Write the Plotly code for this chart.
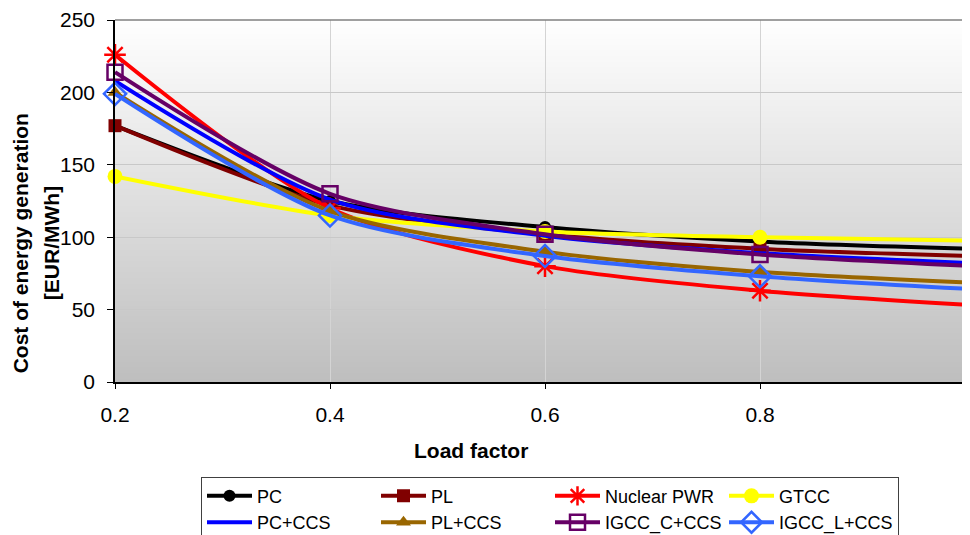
import base64, struct, zlib
import plotly.graph_objects as go

load_factor = [0.2, 0.4, 0.6, 0.8, 1.0]

pc = [177, 125, 107, 97, 92]
pl = [177, 122, 102, 92, 87]
nuclear = [226, 120, 80, 63, 53]
gtcc = [142, 115, 104, 100, 97.5]
pc_ccs = [208, 126, 101, 89, 82]
pl_ccs = [200, 118, 90, 76, 68.5]
igcc_c = [214, 130, 102, 88, 80]
igcc_l = [199, 115, 87, 73, 64]

series_names = ["PC", "PL", "Nuclear PWR", "GTCC", "PC+CCS", "PL+CCS",
                "IGCC_C+CCS", "IGCC_L+CCS"]
series_values = [pc, pl, nuclear, gtcc, pc_ccs, pl_ccs, igcc_c, igcc_l]

y_ticks = [0, 50, 100, 150, 200, 250]
x_ticks = [0.2, 0.4, 0.6, 0.8, 1.0]
x_tick_labels = ["0.2", "0.4", "0.6", "0.8", "1"]

y_title_lines = ["Cost of energy generation", "[EUR/MWh]"]
x_title = "Load factor"

styles = [
    dict(color="#000000", symbol="circle", size=12, open=False),
    dict(color="#800000", symbol="square", size=13, open=False),
    dict(color="#FF0000", symbol="asterisk-open", size=18, open=True),
    dict(color="#FFFF00", symbol="circle", size=15, open=False),
    dict(color="#0000FF", symbol=None, size=0, open=False),
    dict(color="#996600", symbol="triangle-up", size=13, open=False),
    dict(color="#660066", symbol="square-open", size=15, open=True),
    dict(color="#3366FF", symbol="diamond-open", size=17, open=True),
]


def gradient_png(top=(255, 255, 255), bottom=(190, 190, 190), h=256):
    rows = b""
    for i in range(h):
        t = i / (h - 1)
        c = bytes(int(round(top[k] + (bottom[k] - top[k]) * t)) for k in range(3))
        rows += b"\x00" + c
    def chunk(tag, data):
        return (struct.pack(">I", len(data)) + tag + data +
                struct.pack(">I", zlib.crc32(tag + data) & 0xffffffff))
    png = b"\x89PNG\r\n\x1a\n"
    png += chunk(b"IHDR", struct.pack(">IIBBBBB", 1, h, 8, 2, 0, 0, 0))
    png += chunk(b"IDAT", zlib.compress(rows))
    png += chunk(b"IEND", b"")
    return "data:image/png;base64," + base64.b64encode(png).decode()


fig = go.Figure()
for name, vals, st in zip(series_names, series_values, styles):
    if st["symbol"] is None:
        mode = "lines"
        marker = None
    else:
        mode = "lines+markers"
        marker = dict(symbol=st["symbol"], size=st["size"], color=st["color"],
                      line=dict(color=st["color"], width=2.5 if st["open"] else 0))
    fig.add_trace(go.Scatter(
        x=load_factor, y=vals, name=name, mode=mode,
        line=dict(color=st["color"], width=4, shape="spline", smoothing=0.8),
        marker=marker, cliponaxis=False,
    ))

font = "Liberation Sans, Arial, sans-serif"

annotations = [
    dict(text="<b>%s</b>" % x_title, xref="paper", yref="paper",
         x=0.414, y=-0.19, xanchor="center", yanchor="middle",
         showarrow=False, font=dict(size=21)),
    dict(text="<b>%s</b>" % y_title_lines[0], xref="paper", yref="paper",
         x=-0.1105, y=0.383, xanchor="center", yanchor="middle", textangle=-90,
         showarrow=False, font=dict(size=21)),
    dict(text="<b>%s</b>" % y_title_lines[1], xref="paper", yref="paper",
         x=-0.0735, y=0.383, xanchor="center", yanchor="middle", textangle=-90,
         showarrow=False, font=dict(size=21)),
]

fig.update_layout(
    width=990, height=545,
    margin=dict(l=107, r=23, t=12, b=170),
    paper_bgcolor="white",
    plot_bgcolor="rgba(0,0,0,0)",
    font=dict(family=font, size=21, color="black"),
    images=[dict(source=gradient_png(), xref="paper", yref="paper",
                 x=0, y=1, sizex=1, sizey=1, xanchor="left", yanchor="top",
                 sizing="stretch", layer="below")],
    xaxis=dict(range=[0.2, 1.0], tickvals=x_ticks, ticktext=x_tick_labels,
               showgrid=True, gridcolor="#D4D4D4", gridwidth=1,
               showline=True, linecolor="black", linewidth=1.5,
               ticks="outside", ticklen=5, tickcolor="black",
               tickfont=dict(size=21), zeroline=False, automargin=False,
               ticklabelstandoff=8),
    yaxis=dict(range=[0, 250], tickvals=y_ticks,
               showgrid=True, gridcolor="#C8C8C8", gridwidth=1,
               showline=True, linecolor="black", linewidth=1.5,
               ticks="outside", ticklen=6, tickcolor="black",
               tickfont=dict(size=21), zeroline=False, automargin=False,
               ticklabelstandoff=8),
    showlegend=True,
    legend=dict(orientation="h", x=0.1, xanchor="left", y=-0.258, yanchor="top",
                bgcolor="white", bordercolor="#404040", borderwidth=1,
                font=dict(size=18), entrywidth=114, itemwidth=45,
                traceorder="normal", tracegroupgap=0),
    shapes=[dict(type="line", xref="paper", yref="paper", x0=0, x1=1, y0=1, y1=1,
                 line=dict(color="#808080", width=1.5))],
    annotations=annotations,
)

fig.write_html("out.html")
